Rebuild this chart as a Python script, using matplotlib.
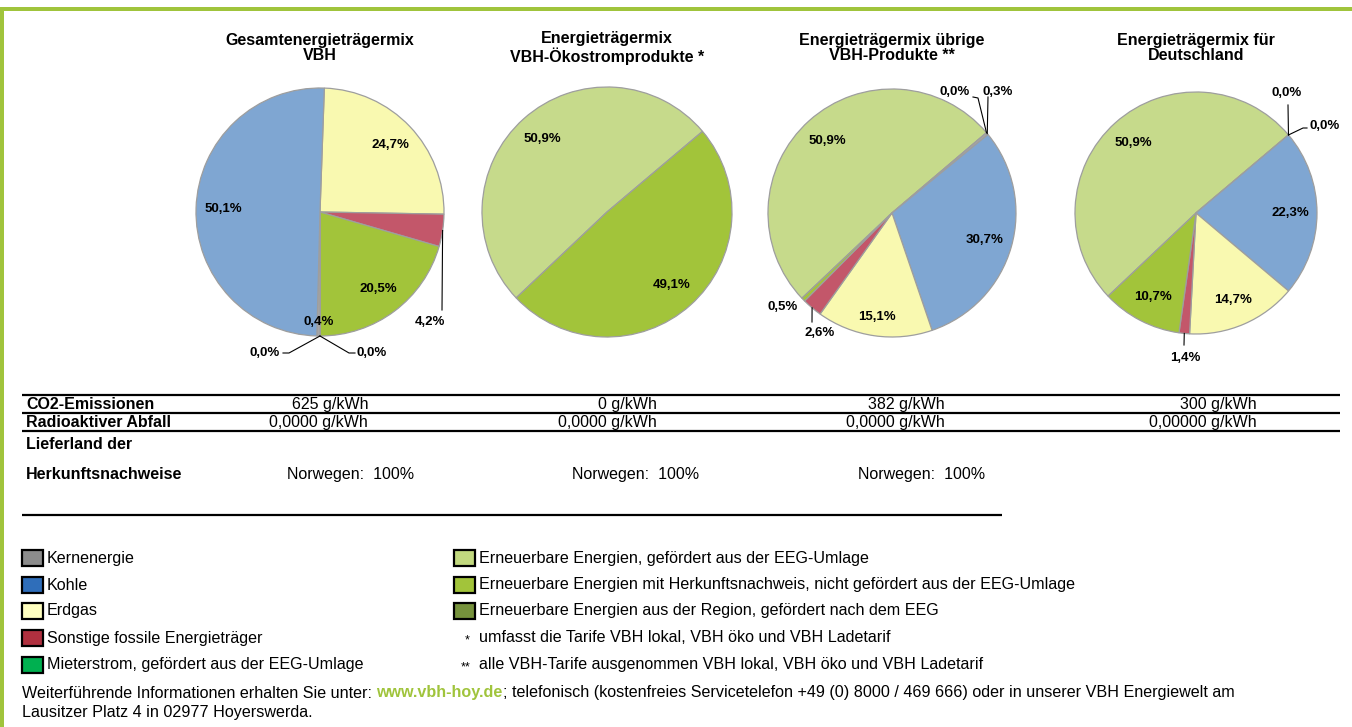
import numpy as np
import matplotlib
matplotlib.use('Agg')
import matplotlib.pyplot as plt
from matplotlib.patches import Rectangle

plt.rcParams['font.family'] = ['Liberation Sans', 'DejaVu Sans']

W, H = 1352, 727

# --- data -------------------------------------------------------------
titles = ['Gesamtenergieträgermix\nVBH',
          'Energieträgermix\nVBH-Ökostromprodukte *',
          'Energieträgermix übrige\nVBH-Produkte **',
          'Energieträgermix für\nDeutschland']

# shares per pie, in the clockwise drawing order of the chart
sources_vbh = ['Erdgas', 'Sonstige', 'Herkunft', 'Mieterstrom', 'Region', 'Kern', 'Kohle']
shares_vbh = [24.7, 4.2, 20.5, 0.0, 0.0, 0.4, 50.1]
sources_oeko = ['EEG', 'Herkunft']
shares_oeko = [50.9, 49.1]
sources_uebrige = ['EEG', 'Mieterstrom', 'Kern', 'Kohle', 'Erdgas', 'Sonstige', 'Herkunft']
shares_uebrige = [50.9, 0.0, 0.3, 30.7, 15.1, 2.6, 0.5]
sources_de = ['EEG', 'Mieterstrom', 'Kern', 'Kohle', 'Erdgas', 'Sonstige', 'Herkunft']
shares_de = [50.9, 0.0, 0.0, 22.3, 14.7, 1.4, 10.7]

co2 = [625, 0, 382, 300]
radio = [0.0, 0.0, 0.0, 0.0]
radio_digits = [4, 4, 4, 5]
lieferland = ['Norwegen', 'Norwegen', 'Norwegen', None]
lieferland_share = [100, 100, 100, None]

legend_left = ['Kernenergie', 'Kohle', 'Erdgas', 'Sonstige fossile Energieträger',
               'Mieterstrom, gefördert aus der EEG-Umlage']
legend_left_keys = ['Kern', 'Kohle', 'Erdgas', 'Sonstige', 'Mieterstrom']
legend_right = ['Erneuerbare Energien, gefördert aus der EEG-Umlage',
                'Erneuerbare Energien mit Herkunftsnachweis, nicht gefördert aus der EEG-Umlage',
                'Erneuerbare Energien aus der Region, gefördert nach dem EEG']
legend_right_keys = ['EEG', 'Herkunft', 'Region']
notes = [('*', 'umfasst die Tarife VBH lokal, VBH öko und VBH Ladetarif'),
         ('**', 'alle VBH-Tarife ausgenommen VBH lokal, VBH öko und VBH Ladetarif')]

# --- styles -----------------------------------------------------------
pie_colors = {'Kern': '#A6A6A6', 'Kohle': '#7FA6D2', 'Erdgas': '#F9F9B0',
              'Sonstige': '#C3576A', 'Mieterstrom': '#00B050', 'EEG': '#C6DA8B',
              'Herkunft': '#A2C43A', 'Region': '#76923C'}
legend_colors = {'Kern': '#8C8C8C', 'Kohle': '#2F6EBA', 'Erdgas': '#FFFFC0',
                 'Sonstige': '#B0303F', 'Mieterstrom': '#00B050', 'EEG': '#C2D97F',
                 'Herkunft': '#A2C43A', 'Region': '#76923C'}
green = '#A0C43C'
FS = 11.6     # legend / footer
TS = 11.5     # table

# pie layout: centre (px, y down), radius, start angle
layout = [dict(cx=320, cy=212, r=124, start=88),
          dict(cx=607, cy=212, r=125, start=223.4),
          dict(cx=892, cy=213, r=124, start=223.4),
          dict(cx=1196, cy=213, r=121, start=223.4)]
# label placement: float -> inside at that radius fraction,
# tuple -> (leader points rel. centre, text position rel. centre)
label_spec = [
    {1: ([(122, 98)], (110, 110)), 3: ([(-31, 141), (-37, 141)], (-55, 141)),
     4: ([(29, 141), (35, 141)], (52, 141)), 5: 0.89},
    {},
    {1: ([(86, -115), (81, -116)], (63, -121)), 2: ([(96, -116)], (106, -121)),
     4: 0.85, 5: ([(-80, 109)], (-72, 120)), 6: ([], (-109, 94))},
    {1: ([(92, -108)], (91, -120)), 2: ([(107, -85), (111, -85)], (129, -87)),
     5: ([(-12, 132)], (-11, 145))},
]

all_sources = [sources_vbh, sources_oeko, sources_uebrige, sources_de]
all_shares = [shares_vbh, shares_oeko, shares_uebrige, shares_de]


def pct(v):
    return f'{v:.1f}%'.replace('.', ',')


fig = plt.figure(figsize=(W / 100, H / 100), dpi=100)
ax = fig.add_axes([0, 0, 1, 1])

# green frame
ax.add_patch(Rectangle((0, H - 11), W, 4, color=green, lw=0))
ax.add_patch(Rectangle((0, 0), 4, H - 7, color=green, lw=0))

for k in range(4):
    lay = layout[k]
    cx, cy, R = lay['cx'], H - lay['cy'], lay['r']
    wedges, _ = ax.pie(all_shares[k], colors=[pie_colors[s] for s in all_sources[k]],
                       startangle=lay['start'], counterclock=False,
                       center=(cx, cy), radius=R,
                       wedgeprops=dict(edgecolor='#9E9E9E', linewidth=0.9))
    ax.text(cx, H - 48, titles[k], ha='center', va='center', fontsize=11.5,
            fontweight='bold', linespacing=1.05)
    for i, w in enumerate(wedges):
        mid = np.deg2rad((w.theta1 + w.theta2) / 2)
        spec = label_spec[k].get(i, 0.78)
        txt = pct(all_shares[k][i])
        if isinstance(spec, float):
            ax.text(cx + spec * R * np.cos(mid), cy + spec * R * np.sin(mid), txt,
                    ha='center', va='center', fontsize=9.5, fontweight='bold')
        else:
            path, (tx, ty) = spec
            if path:
                xs = [cx + R * np.cos(mid)] + [cx + p[0] for p in path]
                ys = [cy + R * np.sin(mid)] + [cy - p[1] for p in path]
                ax.plot(xs, ys, color='black', lw=0.8)
            ax.text(cx + tx, cy - ty, txt, ha='center', va='center',
                    fontsize=9.5, fontweight='bold')

ax.set_xlim(0, W)
ax.set_ylim(0, H)
ax.set_aspect('auto')
ax.axis('off')

# table
for y, x1 in [(395, 1340), (413, 1340), (431, 1340), (515, 1002)]:
    ax.plot([22, x1], [H - y, H - y], color='black', lw=1.6, solid_capstyle='butt')

row_base = [409, 427]
ax.text(26, H - row_base[0], 'CO2-Emissionen', fontsize=TS, fontweight='bold', va='baseline')
ax.text(26, H - row_base[1], 'Radioaktiver Abfall', fontsize=TS, fontweight='bold',
        va='baseline')
ax.text(26, H - 449, 'Lieferland der', fontsize=TS, fontweight='bold', va='baseline')
ax.text(26, H - 479, 'Herkunftsnachweise', fontsize=TS, fontweight='bold', va='baseline')

value_right = [368, 657, 945, 1257]
land_left = [287, 572, 858]
for j in range(4):
    ax.text(value_right[j], H - row_base[0], f'{co2[j]} g/kWh', fontsize=TS,
            ha='right', va='baseline')
    ax.text(value_right[j], H - row_base[1],
            f'{radio[j]:.{radio_digits[j]}f} g/kWh'.replace('.', ','),
            fontsize=TS, ha='right', va='baseline')
    if lieferland[j]:
        ax.text(land_left[j], H - 479, f'{lieferland[j]}:  {lieferland_share[j]}%',
                fontsize=TS, ha='left', va='baseline')

# legend
rows_y = [558, 585, 611, 638, 665]
for i, (lab, key) in enumerate(zip(legend_left, legend_left_keys)):
    ax.add_patch(Rectangle((22, H - rows_y[i] - 8), 21, 16, facecolor=legend_colors[key],
                           edgecolor='black', lw=1.6))
    ax.text(47, H - rows_y[i], lab, fontsize=FS, va='center')
for i, (lab, key) in enumerate(zip(legend_right, legend_right_keys)):
    ax.add_patch(Rectangle((454, H - rows_y[i] - 8), 21, 16, facecolor=legend_colors[key],
                           edgecolor='black', lw=1.6))
    ax.text(479, H - rows_y[i], lab, fontsize=FS, va='center')
for i, (star, lab) in enumerate(notes):
    ax.text(470, H - rows_y[3 + i] - 2, star, fontsize=9, ha='right', va='center')
    ax.text(479, H - rows_y[3 + i], lab, fontsize=FS, va='center')

# footer
renderer = fig.canvas.get_renderer()
inv = ax.transData.inverted()
t1 = ax.text(22, H - 693, 'Weiterführende Informationen erhalten Sie unter: ',
             fontsize=FS, va='center')
x = inv.transform((t1.get_window_extent(renderer).x1, 0))[0]
t2 = ax.text(x, H - 693, 'www.vbh-hoy.de', fontsize=FS, va='center',
             fontweight='bold', color=green)
x = inv.transform((t2.get_window_extent(renderer).x1, 0))[0]
ax.text(x, H - 693, '; telefonisch (kostenfreies Servicetelefon +49 (0) 8000 / 469 666) '
        'oder in unserer VBH Energiewelt am', fontsize=FS, va='center')
ax.text(22, H - 712, 'Lausitzer Platz 4 in 02977 Hoyerswerda.', fontsize=FS, va='center')

fig.savefig('out.png', dpi=100)
